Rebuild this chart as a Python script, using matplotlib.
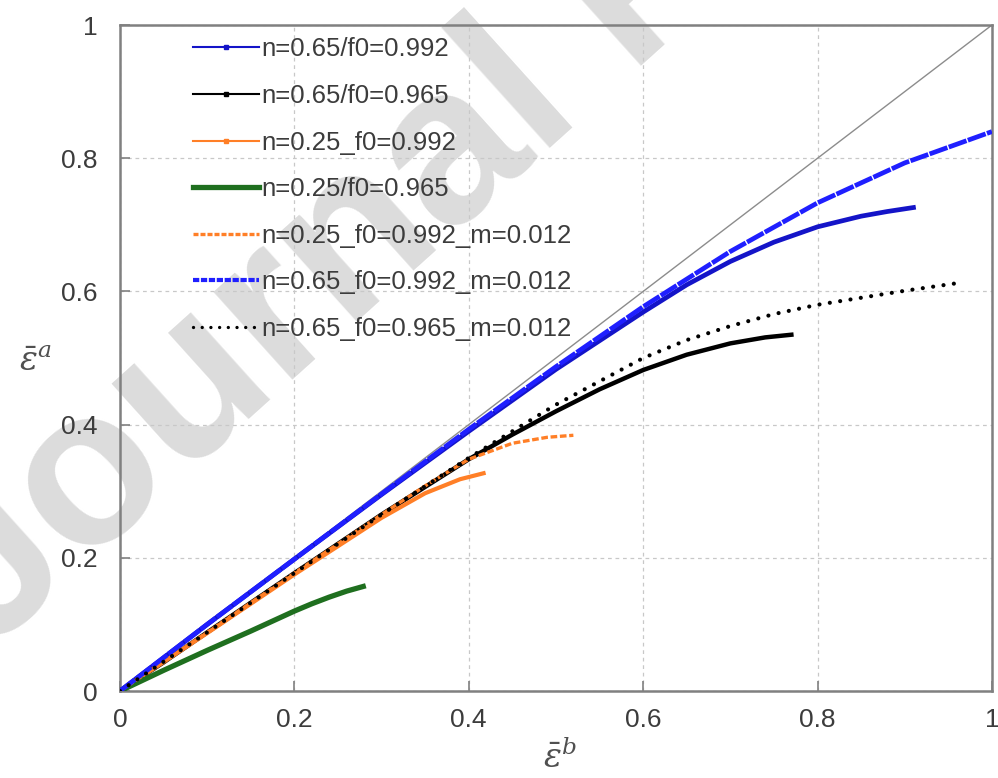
import matplotlib
matplotlib.use("Agg")
import matplotlib.pyplot as plt
from matplotlib.lines import Line2D

plt.rcParams['font.family'] = ['Liberation Sans', 'DejaVu Sans']
plt.rcParams['mathtext.fontset'] = 'dejavuserif'

# strain paths (eps_b, eps_a) for each case
blue_x = [0, 0.05, 0.1, 0.2, 0.3, 0.4, 0.5, 0.6, 0.65, 0.7, 0.75, 0.8, 0.85, 0.88, 0.91]
blue_y = [0, 0.05, 0.1, 0.198, 0.295, 0.39, 0.483, 0.569, 0.61, 0.645, 0.674, 0.697, 0.713, 0.72, 0.726]

black_x = [0, 0.05, 0.1, 0.2, 0.3, 0.4, 0.45, 0.5, 0.55, 0.6, 0.65, 0.7, 0.74, 0.77]
black_y = [0, 0.043, 0.088, 0.177, 0.265, 0.348, 0.385, 0.42, 0.453, 0.482, 0.505, 0.522, 0.531, 0.535]

orange_x = [0, 0.1, 0.2, 0.3, 0.35, 0.39, 0.417]
orange_y = [0, 0.087, 0.175, 0.26, 0.297, 0.318, 0.327]

green_x = [0, 0.05, 0.1, 0.15, 0.2, 0.22, 0.24, 0.26, 0.279]
green_y = [0, 0.031, 0.061, 0.09, 0.12, 0.131, 0.141, 0.15, 0.157]

orange_m_x = [0, 0.1, 0.2, 0.3, 0.35, 0.4, 0.45, 0.49, 0.52]
orange_m_y = [0, 0.088, 0.177, 0.265, 0.308, 0.348, 0.372, 0.381, 0.384]

blue_m_x = [0, 0.05, 0.1, 0.2, 0.3, 0.4, 0.5, 0.6, 0.7, 0.8, 0.9, 1.0]
blue_m_y = [0, 0.05, 0.1, 0.198, 0.296, 0.393, 0.487, 0.577, 0.66, 0.733, 0.793, 0.84]

black_m_x = [0, 0.1, 0.2, 0.3, 0.4, 0.5, 0.6, 0.65, 0.7, 0.75, 0.8, 0.9, 0.958]
black_m_y = [0, 0.088, 0.177, 0.265, 0.35, 0.43, 0.5, 0.527, 0.548, 0.566, 0.58, 0.601, 0.612]

labels = ['n=0.65/f0=0.992', 'n=0.65/f0=0.965', 'n=0.25_f0=0.992', 'n=0.25/f0=0.965',
          'n=0.25_f0=0.992_m=0.012', 'n=0.65_f0=0.992_m=0.012', 'n=0.65_f0=0.965_m=0.012']

BLUE = '#1414c8'
BLUE2 = '#1f1fff'
ORANGE = '#ff7f27'
GREEN = '#1f6f1f'

fig = plt.figure(figsize=(9.98, 7.78), dpi=100)
ax = fig.add_axes([0.1202, 0.1118, 0.8737, 0.856])
ax.patch.set_alpha(0)

# watermark behind the axes, anchored at the start of its baseline
fig.text(-0.012, 0.16, 'Journal Pre-proof', fontsize=160, fontweight='bold',
         color='#dcdcdc', rotation=42, rotation_mode='anchor',
         ha='left', va='baseline', zorder=-5)

ax.plot([0, 1], [0, 1], color='#8c8c8c', lw=1.0, zorder=2)

ax.plot(blue_x, blue_y, color=BLUE, lw=3.4, zorder=3)
ax.plot(black_x, black_y, color='black', lw=3.2, zorder=3)
ax.plot(orange_x, orange_y, color=ORANGE, lw=3.0, zorder=3)
ax.plot(green_x, green_y, color=GREEN, lw=3.8, zorder=3)
ax.plot(orange_m_x, orange_m_y, color=ORANGE, lw=2.4, dashes=(2.0, 0.8), zorder=4)
ax.plot(blue_m_x, blue_m_y, color=BLUE2, lw=3.4, dashes=(4.0, 0.3), zorder=4)
ax.plot(black_m_x, black_m_y, color='black', lw=3.0, dashes=(0.01, 2.5),
        dash_capstyle='round', zorder=5)

ax.set_xlim(0, 1)
ax.set_ylim(0, 1)
ax.set_xticks([0, 0.2, 0.4, 0.6, 0.8, 1])
ax.set_yticks([0, 0.2, 0.4, 0.6, 0.8, 1])
ax.set_xticklabels(['0', '0.2', '0.4', '0.6', '0.8', '1'])
ax.set_yticklabels(['0', '0.2', '0.4', '0.6', '0.8', '1'])
ax.tick_params(direction='in', length=7, width=1.2, color='#808080',
               labelsize=19, labelcolor='#3c3c3c')
ax.tick_params(axis='x', pad=12)
ax.tick_params(axis='y', pad=16)
ax.grid(True, color='#c8c8c8', lw=0.9, ls=(0, (3, 3)))
for s in ax.spines.values():
    s.set_color('#808080')
    s.set_linewidth(1.8)

ax.set_xlabel(r'$\bar{\varepsilon}^{b}$', fontsize=24, color='#505050')
ax.set_ylabel(r'$\bar{\varepsilon}^{a}$', fontsize=24, color='#505050', rotation=0)
ax.xaxis.set_label_coords(0.505, -0.075)
ax.yaxis.set_label_coords(-0.097, 0.47)

handles = [
    Line2D([], [], color=BLUE, lw=1.5, marker='s', ms=3.5),
    Line2D([], [], color='black', lw=1.5, marker='s', ms=3.5),
    Line2D([], [], color=ORANGE, lw=1.5, marker='s', ms=3.5),
    Line2D([], [], color=GREEN, lw=3.8),
    Line2D([], [], color=ORANGE, lw=2.4, dashes=(1.5, 0.6)),
    Line2D([], [], color=BLUE2, lw=3.0, dashes=(1.5, 0.4)),
    Line2D([], [], color='black', lw=2.4, dashes=(0.01, 2.6), dash_capstyle='round'),
]
leg = ax.legend(handles, labels, loc='upper left', bbox_to_anchor=(0.072, 0.997),
                frameon=False, fontsize=18.5, handlelength=2.57, handletextpad=0.1,
                labelspacing=0.88, borderaxespad=0)
for t in leg.get_texts():
    t.set_color('#3c3c3c')

fig.savefig('out.png', dpi=100)
